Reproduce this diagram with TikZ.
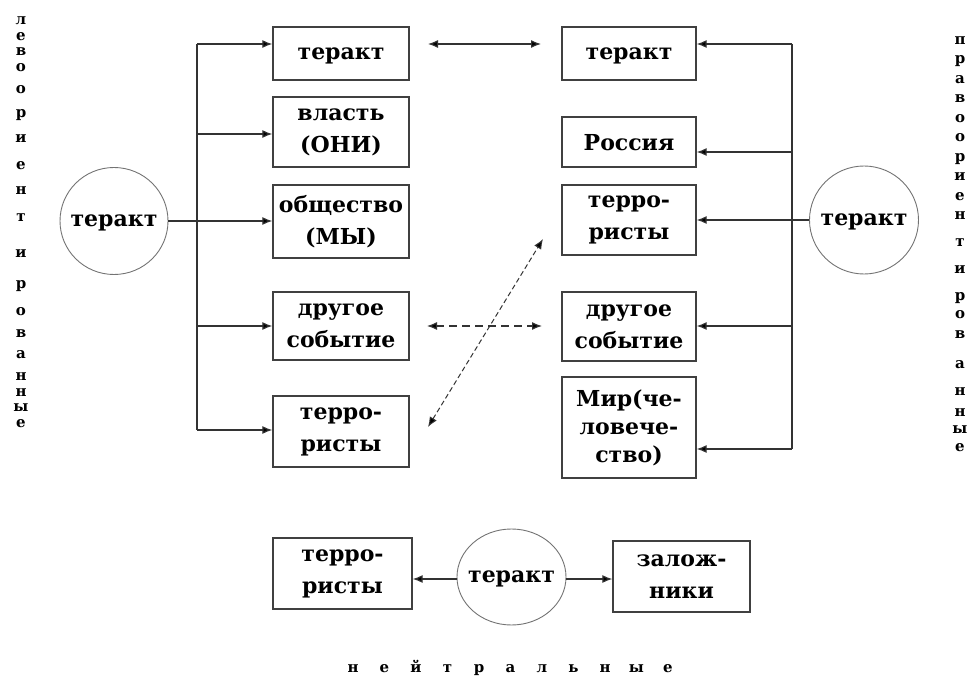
\documentclass[tikz,border=0pt]{standalone}
\usepackage{fontspec}
\setmainfont{DejaVu Serif}
\usetikzlibrary{arrows.meta,shapes.geometric}

\tikzset{
  lbl/.style={font=\bfseries\fontsize{22}{32}\selectfont, text=black},
  box/.style={lbl, draw=black!75, line width=1.3pt, align=center, inner sep=0pt, minimum width=136pt},
  oneline/.style={text depth=0pt},
  bubble/.style={lbl, ellipse, draw=black!55, line width=0.9pt, inner xsep=-8pt, inner ysep=0pt, text depth=0pt},
  wire/.style={draw=black!80, line width=1.2pt},
  arr/.style={wire, -{Latex[length=10pt,width=8pt,fill=black]}},
  dbl/.style={wire, {Latex[length=10pt,width=8pt,fill=black]}-{Latex[length=10pt,width=8pt,fill=black]}},
  vletter/.style={font=\bfseries\fontsize{15}{15}\selectfont, inner sep=0pt, text=black, anchor=base}
}

\begin{document}
\begin{tikzpicture}[x=1pt,y=-1pt]
\useasboundingbox (0,0) rectangle (977,679);

% left-oriented group
\node[bubble, minimum width=108pt, minimum height=107pt] (L0) at (114,221) {теракт};
\node[box, oneline, minimum height=53pt] (L1) at (341,53.5) {теракт};
\node[box, minimum height=70pt] (L2) at (341,132) {власть\\(ОНИ)};
\node[box, minimum height=73pt] (L3) at (341,221.5) {общество\\(МЫ)};
\node[box, minimum height=68pt] (L4) at (341,326) {другое\\событие};
\node[box, minimum height=71pt] (L5) at (341,431.5) {терро-\\ристы};

\coordinate (jL1) at (197,44);
\coordinate (jL2) at (197,134);
\coordinate (jL4) at (197,326);
\coordinate (jL5) at (197,430);
\draw[wire] (jL1) -- (jL5);
\draw[arr] (jL1) -- (jL1 -| L1.west);
\draw[arr] (jL2) -- (jL2 -| L2.west);
\draw[arr] (L0.east) -- (L0.east -| L3.west);
\draw[arr] (jL4) -- (jL4 -| L4.west);
\draw[arr] (jL5) -- (jL5 -| L5.west);

% right-oriented group
\node[bubble, minimum width=109pt, minimum height=108pt] (R0) at (864,220) {теракт};
\node[box, oneline, minimum width=134pt, minimum height=53pt] (R1) at (629,53.5) {теракт};
\node[box, oneline, minimum width=134pt, minimum height=50pt] (R2) at (629,142) {Россия};
\node[box, minimum width=134pt, minimum height=70pt] (R3) at (629,220) {терро-\\ристы};
\node[box, minimum width=134pt, minimum height=69pt] (R4) at (629,326.5) {другое\\событие};
\node[box, minimum width=134pt, minimum height=101pt, font=\bfseries\fontsize{22}{28}\selectfont] (R5) at (629,427.5) {Мир(че-\\ловече-\\ство)};

\coordinate (jR1) at (792,44);
\coordinate (jR2) at (792,152);
\coordinate (jR4) at (792,326);
\coordinate (jR5) at (792,449);
\draw[wire] (jR1) -- (jR5);
\draw[arr] (jR1) -- (jR1 -| R1.east);
\draw[arr] (jR2) -- (jR2 -| R2.east);
\draw[arr] (R0.west) -- (R0.west -| R3.east);
\draw[arr] (jR4) -- (jR4 -| R4.east);
\draw[arr] (jR5) -- (jR5 -| R5.east);

% links between the two groups
\coordinate (t1) at (428,44);
\coordinate (t2) at (541,44);
\draw[dbl] (t1) -- (t2);
\coordinate (e1) at (427,326);
\coordinate (e2) at (542,326);
\draw[dbl, dash pattern=on 8pt off 5pt] (e1) -- (e2);
\coordinate (g1) at (428,427);
\coordinate (g2) at (543,239);
\draw[dbl, line width=1pt, dash pattern=on 5pt off 3pt] (g1) -- (g2);

% neutral group
\node[bubble, minimum width=109pt, minimum height=96pt] (N0) at (511.5,577) {теракт};
\node[box, minimum width=139pt, minimum height=71pt] (N1) at (342.5,573.5) {терро-\\ристы};
\node[box, minimum width=137pt, minimum height=71pt] (N2) at (681.5,576.5) {залож-\\ники};
\draw[arr] (N0.west |- 0,579) -- (N1.east |- 0,579);
\draw[arr] (N0.east |- 0,579) -- (N2.west |- 0,579);

% group captions
\foreach \c/\y [count=\i] in {л/20,е/36,в/51,о/67,о/89,р/113,и/138,е/165,н/190,т/217,
  и/253,р/283,о/310,в/332,а/353,н/375,н/391,ы/406,е/422}
  \node[vletter] (lc\i) at (21,\y+5) {\c};
\foreach \c/\y [count=\i] in {п/40,р/59,а/79,в/98,о/118,о/137,р/157,и/176,е/196,н/215,т/242,
  и/268,р/295,о/313,в/333,а/363,н/390,н/411,ы/428,е/446}
  \node[vletter] (rc\i) at (960,\y+5) {\c};
\foreach \c [count=\i] in {н,е,й,т,р,а,л,ь,н,ы,е}
  \node[vletter] (nc\i) at ({353+(\i-1)*31.5},672) {\c};
\end{tikzpicture}
\end{document}
